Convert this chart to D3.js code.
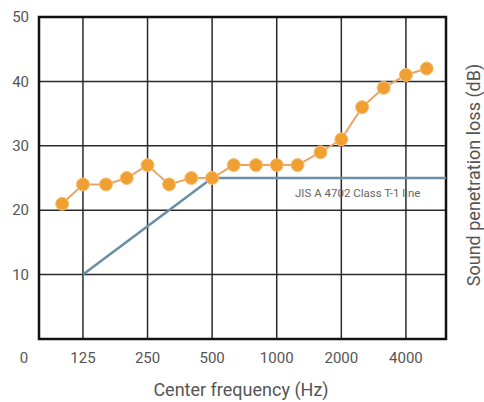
<!DOCTYPE html>
<html>
<head>
<meta charset="utf-8">
<script src="https://cdn.jsdelivr.net/npm/d3@7"></script>
<style>
  body { margin: 0; background: #fff; }
  text { font-family: "Roboto", "DejaVu Sans Condensed", sans-serif; fill: #555; }
</style>
</head>
<body>
<svg id="chart" width="484" height="402"></svg>
<script>
// 1/3 octave centre frequencies and measured loss
const freqs = [100, 125, 160, 200, 250, 315, 400, 500, 630, 800, 1000, 1250, 1600, 2000, 2500, 3150, 4000, 5000];
const loss = [21, 24, 24, 25, 27, 24, 25, 25, 27, 27, 27, 27, 29, 31, 36, 39, 41, 42];
// JIS A 4702 T-1 reference line
const refFreqs = [125, 500, 6150];
const refLoss = [10, 25, 25];
const xTicks = [125, 250, 500, 1000, 2000, 4000];
const yTicks = [10, 20, 30, 40, 50];

const svg = d3.select("#chart");
const plotL = 39, plotR = 446, plotT = 17, plotB = 339;

const x = d3.scaleLog().base(2).domain([78, 6150]).range([plotL, plotR]);
const y = d3.scaleLinear().domain([0, 50]).range([plotB, plotT]);

// grid
svg.append("g").selectAll("line").data(xTicks).join("line")
  .attr("x1", d => x(d)).attr("x2", d => x(d))
  .attr("y1", plotT).attr("y2", plotB)
  .attr("stroke", "#2a2a2a").attr("stroke-width", 1.5);
svg.append("g").selectAll("line").data([10, 20, 30, 40]).join("line")
  .attr("x1", plotL).attr("x2", plotR)
  .attr("y1", d => y(d)).attr("y2", d => y(d))
  .attr("stroke", "#2a2a2a").attr("stroke-width", 1.5);

// frame
svg.append("rect")
  .attr("x", plotL).attr("y", plotT)
  .attr("width", plotR - plotL).attr("height", plotB - plotT)
  .attr("fill", "none").attr("stroke", "#111").attr("stroke-width", 2.5);

// tick labels
svg.append("g").selectAll("text").data(yTicks).join("text")
  .attr("x", 29).attr("y", d => y(d))
  .attr("dy", "0.35em").attr("text-anchor", "end")
  .style("font-size", "15px").text(d => d);
svg.append("text").attr("x", 24).attr("y", 358).attr("dy", "0.35em")
  .attr("text-anchor", "middle").style("font-size", "15px").text("0");
svg.append("g").selectAll("text").data(xTicks).join("text")
  .attr("x", d => x(d)).attr("y", 358)
  .attr("dy", "0.35em").attr("text-anchor", "middle")
  .style("font-size", "15px").text(d => d);

// axis titles
svg.append("text").attr("x", 241).attr("y", 390).attr("dy", "0.35em")
  .attr("text-anchor", "middle").style("font-size", "18px")
  .text("Center frequency (Hz)");
svg.append("text")
  .attr("transform", "translate(474,175) rotate(-90)")
  .attr("dy", "0.35em").attr("text-anchor", "middle")
  .style("font-size", "18px").text("Sound penetration loss (dB)");

// reference line
svg.append("path")
  .datum(refFreqs.map((f, i) => [f, refLoss[i]]))
  .attr("fill", "none").attr("stroke", "#6b8ea6").attr("stroke-width", 2.5)
  .attr("d", d3.line().x(d => x(d[0])).y(d => y(d[1])));
svg.append("text").attr("x", 295).attr("y", 193).attr("dy", "0.35em")
  .style("font-size", "11.5px").style("fill", "#666")
  .text("JIS A 4702 Class T-1 line");

// measured series
const pts = freqs.map((f, i) => [f, loss[i]]);
svg.append("path").datum(pts)
  .attr("fill", "none").attr("stroke", "#eaa468").attr("stroke-width", 2)
  .attr("d", d3.line().x(d => x(d[0])).y(d => y(d[1])));
svg.append("g").selectAll("circle").data(pts).join("circle")
  .attr("cx", d => x(d[0])).attr("cy", d => y(d[1]))
  .attr("r", 6.5)
  .attr("fill", "#f0a032").attr("stroke", "#f5c070").attr("stroke-width", 1);
</script>
</body>
</html>
